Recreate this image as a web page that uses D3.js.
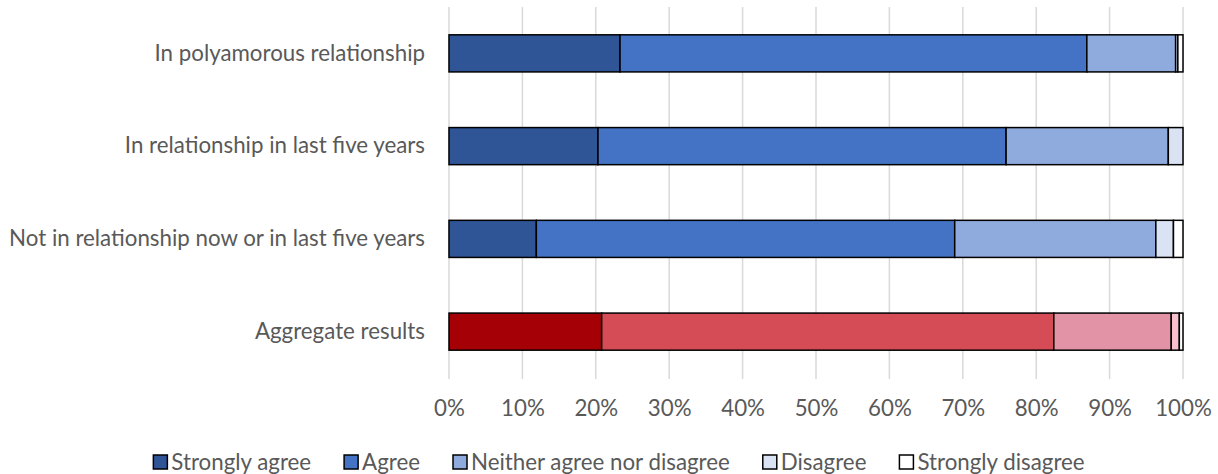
<!DOCTYPE html>
<html>
<head>
<meta charset="utf-8">
<script src="https://cdn.jsdelivr.net/npm/d3@7"></script>
<style>
  html, body { margin: 0; padding: 0; background: #fff; }
  svg { display: block; }
  text { font-family: Lato, "Open Sans", sans-serif; fill: #595959; }
</style>
</head>
<body>
<svg id="chart" width="1218" height="474"></svg>
<script>
// ---- data ----
const categories = [
  "In polyamorous relationship",
  "In relationship in last five years",
  "Not in relationship now or in last five years",
  "Aggregate results"
];
const seriesNames = ["Strongly agree", "Agree", "Neither agree nor disagree", "Disagree", "Strongly disagree"];
const stronglyAgree = [23.3, 20.3, 11.9, 20.8];
const agree         = [63.6, 55.6, 57.0, 61.6];
const neither       = [12.1, 22.1, 27.4, 16.0];
const disagree      = [0.3, 2.0, 2.4, 1.1];
const stronglyDis   = [0.7, 0.0, 1.3, 0.5];
const tickLabels = ["0%", "10%", "20%", "30%", "40%", "50%", "60%", "70%", "80%", "90%", "100%"];
const blueColors = ["#2F5597", "#4472C4", "#8FAADC", "#DAE3F3", "#FFFFFF"];
const redColors  = ["#A50005", "#D64C56", "#E293A5", "#F7C0CF", "#FFFFFF"];

// ---- layout ----
const FS = 22.3;
const svg = d3.select("#chart");
const margin = { left: 449, right: 35, top: 7, bottom: 96 };
const W = 1218, H = 474;
const x = d3.scaleLinear().domain([0, 100]).range([margin.left, W - margin.right]);
const y = d3.scaleBand().domain(categories).range([margin.top, H - margin.bottom]).paddingInner(0.6).paddingOuter(0.3);

const seriesValues = [stronglyAgree, agree, neither, disagree, stronglyDis];
const table = categories.map((c, i) => {
  const row = { category: c };
  seriesNames.forEach((s, j) => row[s] = seriesValues[j][i]);
  return row;
});
const stacked = d3.stack().keys(seriesNames)(table);

// gridlines
svg.append("g").selectAll("line")
  .data(d3.range(0, 101, 10))
  .join("line")
  .attr("x1", d => x(d)).attr("x2", d => x(d))
  .attr("y1", margin.top).attr("y2", H - margin.bottom + 1)
  .attr("stroke", "#D9D9D9").attr("stroke-width", 1.5);

// bars
stacked.forEach((layer, j) => {
  svg.append("g").selectAll("rect")
    .data(layer)
    .join("rect")
    .attr("x", d => x(d[0]))
    .attr("width", d => Math.max(0, x(d[1]) - x(d[0])))
    .attr("y", d => y(d.data.category))
    .attr("height", y.bandwidth())
    .attr("fill", (d, i) => (d.data.category === "Aggregate results" ? redColors[j] : blueColors[j]))
    .attr("stroke", "#000")
    .attr("stroke-width", 1.5)
    .attr("display", d => (d[1] - d[0] > 0 ? null : "none"));
});

// x axis labels
const xAxis = d3.axisBottom(x).tickValues(d3.range(0, 101, 10)).tickFormat((d, i) => tickLabels[i]).tickSize(0).tickPadding(0);
const gx = svg.append("g").attr("transform", `translate(0, ${H - margin.bottom})`).call(xAxis);
gx.select(".domain").remove();
gx.selectAll("text").attr("font-size", FS).attr("dy", 0).attr("y", 38).style("font-family", "Lato, sans-serif").attr("fill", "#595959");

// y axis labels
const yAxis = d3.axisLeft(y).tickSize(0).tickPadding(24);
const gy = svg.append("g").attr("transform", `translate(${margin.left}, 0)`).call(yAxis);
gy.select(".domain").remove();
gy.selectAll("text").attr("font-size", FS).style("font-family", "Lato, sans-serif").attr("fill", "#595959");

// legend
const legend = svg.append("g");
const legendY = 462;
const items = legend.selectAll("g").data(seriesNames).join("g");
items.append("rect")
  .attr("width", 14).attr("height", 14)
  .attr("y", legendY - 7)
  .attr("fill", (d, j) => blueColors[j])
  .attr("stroke", "#000").attr("stroke-width", 1.5);
items.append("text")
  .attr("x", 18).attr("y", legendY).attr("dy", "0.35em")
  .attr("font-size", FS)
  .text(d => d);
const gap = 33;
let widths = [];
items.each(function() { widths.push(this.getBBox().width); });
const total = d3.sum(widths) + gap * (widths.length - 1);
let cx = 619 - total / 2;
items.attr("transform", (d, i) => { const t = `translate(${cx},0)`; cx += widths[i] + gap; return t; });
</script>
</body>
</html>
